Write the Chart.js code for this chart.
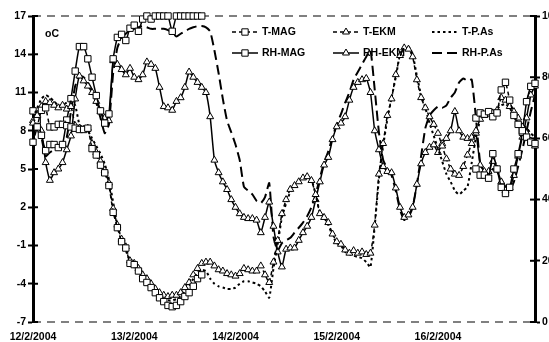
<!DOCTYPE html>
<html><head><meta charset="utf-8">
<script src="https://cdn.jsdelivr.net/npm/chart.js@4/dist/chart.umd.min.js"></script>
<style>
html,body{margin:0;padding:0;overflow:hidden;background:#fff;width:549px;height:342px}
#wrap{position:absolute;left:0;top:0;width:580px;height:350px}
</style>
</head><body>
<div id="wrap"><canvas id="c" width="580" height="350"></canvas></div>
<script>
// x positions of the date labels (hours since 12/2/2004 00:00)
const tickHours = [0, 24, 48, 72, 96];
const dayLabels = ['12/2/2004', '13/2/2004', '14/2/2004', '15/2/2004', '16/2/2004'];
const tempTicks = [-7, -4, -1, 2, 5, 8, 11, 14, 17];
const rhTicks = [0, 20, 40, 60, 80, 100];
const seriesNames = ['T-MAG', 'T-EKM', 'T-P.As', 'RH-MAG', 'RH-EKM', 'RH-P.As'];

// hourly values, hour 0..119
const tMag = [
 7.1, 8.3, 9.6, 9.8, 8.3, 8.3, 8.5, 8.5, 8.4, 8.3,
 8.2, 8.1, 8.1, 8.2, 6.6, 6.1, 5.3, 4.7, 3.7, 1.6,
 0.4, -0.7, -1.2, -2.4, -2.5, -3.0, -3.6, -3.9, -4.3, -4.7,
 -5.1, -5.4, -5.7, -5.8, -5.7, -5.4, -5.0, -4.7, -4.2, -3.6,
 -3.3,
 null, null, null, null, null, null, null, null, null, null, null, null, null, null, null, null,
 null, null, null, null, null, null, null, null, null, null, null, null, null, null, null, null,
 null, null, null, null, null, null, null, null, null, null, null, null, null, null, null, null,
 null, null, null, null, null, null, null, null, null, null, null, null, null, null, null, null,
 9.0, 9.4, 9.3, 9.5, 9.1, 9.4, 11.2, 11.8, 10.4, 9.2, 8.5, 8.0, 7.5, 7.1, 7.0
];
const tEkm = [
 8.6, 9.2, 9.9, 10.3, 10.2, 10.0, 9.8, 10.0, 9.7, 9.9,
 8.4, 8.2, 8.1, 8.2, 7.0, 6.3, 5.6, 4.9, 3.9, 1.9,
 0.6, -0.5, -1.1, -2.2, -2.4, -2.8, -3.3, -3.6, -4.0, -4.4,
 -4.7, -4.9, -5.0, -4.9, -4.9, -4.7, -4.3, -3.9, -3.3, -2.8,
 -2.4, -2.3, -2.3, -2.6, -2.9, -3.0, -3.2, -3.3, -3.4, -3.2,
 -2.8, -2.9, -3.0, -3.0, -2.6, -3.3, -3.9, -2.3, -0.6, 1.5,
 2.6, 3.4, 3.7, 4.0, 4.3, 4.4, 4.1, 3.0, 1.5, 1.2,
 0.8, -0.1, -0.7, -0.9, -1.35, -1.6, -1.4, -1.6, -1.5, -1.7,
 -1.6, 0.6, 4.6, 7.0, 9.2, 10.5, 12.4, 13.9, 14.5, 14.4,
 13.8, 12.0, 10.6, 9.8, 9.1, 8.5, 7.8, 6.8, 5.8, 5.0,
 4.6, 4.5, 5.2, 6.1, 7.0, 8.0, 8.9, 9.2, 9.3, 9.4,
 9.6, 10.6, 10.4, 9.9, 9.5, 9.0, 8.3, 7.8, 7.2, 6.8
];
const tPas = [
 9.0, 9.8, 10.5, 10.8, 10.6, 10.3, 10.0, 10.0, 10.2, 10.3,
 10.0, 8.5, 8.2, 8.0, 7.4, 6.8, 6.2, 5.4, 4.2, 2.4,
 0.6, -0.6, -1.4, -2.2, -2.7, -3.1, -3.5, -3.9, -4.3, -4.7,
 -5.0, -5.2, -5.3, -5.3, -5.2, -5.0, -4.6, -4.2, -3.6, -3.1,
 -2.9, -3.0, -3.6, -4.0, -4.2, -4.3, -4.4, -4.4, -4.3, -4.0,
 -3.8, -3.8, -3.9, -4.0, -4.2, -4.6, -5.1, -2.8, -0.9, 1.2,
 2.3, 3.2, 3.6, 4.0, 4.3, 4.5, 4.2, 3.0, 1.6, 1.2,
 0.6, -0.2, -0.8, -1.0, -1.5, -1.7, -1.8, -1.9, -2.0, -2.3,
 -2.7, 0.5, 4.2, 6.8, 8.9, 10.6, 12.2, 14.0, 14.5, 14.6,
 14.0, 12.3, 10.8, 9.8, 8.6, 7.6, 6.6, 5.6, 4.6, 4.0,
 3.3, 3.0, 3.3, 3.6, 5.5, 7.5, 8.8, 9.2, 9.3, 9.5,
 9.7, 10.0, 10.1, 9.8, 9.2, 8.8, 8.5, 8.2, 7.8, 7.5
];
const rhMag = [
 69, 66, 61, 56, 58, 58, 57, 58, 66, 73,
 82, 90, 90, 86, 80, 74, 69, 65, 68, 86,
 93, 94, 92, 96, 97, 95, 99, 100, 99, 100,
 100, 100, 100, 95, 100, 100, 100, 100, 100, 100,
 100,
 null, null, null, null, null, null, null, null, null, null, null, null, null, null, null, null,
 null, null, null, null, null, null, null, null, null, null, null, null, null, null, null, null,
 null, null, null, null, null, null, null, null, null, null, null, null, null, null, null, null,
 null, null, null, null, null, null, null, null, null, null, null, null, null, null, null, null,
 50, 48, 48, 47, 55, 50, 44, 42, 44, 50, 55, 62, 72, 77, 78
];
const rhEkm = [
 65.8, 67.9, 62.5, 52.1, 46.3, 48.8, 50, 52.1, 56.3, 60.8,
 72.9, 80.4, 78.8, 77.1, 75, 72.1, 68.8, 66.7, 65.8, 85.4,
 84.2, 82.5, 80.8, 82.9, 80, 79.2, 80.8, 85, 84.2, 82.9,
 76.7, 70.4, 70, 69.2, 72.1, 73.3, 76.7, 81.7, 80, 78.3,
 76.7, 75, 67.1, 52.9, 48.8, 45.8, 43.3, 40, 37.5, 35.4,
 34.2, 33.8, 33.8, 33.3, 29.2, 34.2, 39.2, 31.3, 22.9, 18,
 23.8, 24.2, 24.2, 26.7, 29.2, 31.3, 34.2, 40, 45.8, 51.3,
 53.8, 59.6, 63.8, 65, 67.1, 72.5, 76.7, 78.3, 79.2, 79.6,
 75, 62.5, 56.3, 50.8, 49.2, 48.8, 43.8, 37.5, 34.2, 35,
 37.5, 45, 51.7, 55.4, 57.1, 57.9, 55.4, 58.3, 60, 62.5,
 68.8, 62.5, 60.4, 60, 60.4, 61.7, 51.3, 49.2, 49.2, 52.5,
 50, 45.8, 42.9, 43.8, 47.9, 54.2, 60.4, 66.7, 74.2, 77.1
];
const rhPas = [
 64.6, 66.7, 60.4, 54.2, 55.4, 56.3, 57.5, 58.3, 60.4, 68.8,
 77.1, 80.4, 80, 78.3, 75.8, 71.7, 66.7, 61.7, 64.6, 81.3,
 89.6, 92.9, 94.2, 95.4, 95.8, 96.3, 96.7, 96.3, 95.8, 95.8,
 95.8, 95.8, 95.4, 94.6, 93.3, 94.2, 95, 95.8, 96.3, 96.7,
 96.7, 96.3, 95, 88.8, 81.3, 72.9, 65.8, 62, 58, 52.9,
 44.2, 42.9, 41.7, 39.6, 38.8, 40.8, 45.4, 27.9, 23.3, 25.8,
 26.7, 27.5, 29.2, 30.8, 32.5, 34.6, 37.5, 41.7, 47.1, 52.1,
 55.8, 60.4, 64.6, 67.9, 71.7, 75, 79.2, 81.7, 84.2, 86.7,
 88.8, 76, 62, 53, 50, 47.9, 42.9, 36.7, 33.3, 34.2,
 37.5, 45, 54.2, 63.3, 67.5, 69.2, 70.4, 70, 70.8, 73.3,
 75, 78.3, 79.6, 78.8, 79.2, 66.7, 52.1, 49.2, 48.3, 50,
 49.2, 46.7, 44.2, 43.3, 45.8, 50.8, 56.3, 62.5, 68.8, 74.2
];

const FONT = {family: "'Liberation Sans', Arial, sans-serif", size: 10.5, weight: 'bold'};
const toPts = arr => arr.map((v, i) => ({x: i, y: v}));

const base = {borderColor: '#000', pointBorderColor: '#000', pointBackgroundColor: '#fff',
  pointBorderWidth: 1, tension: 0.15, clip: false, spanGaps: false, fill: false};

const datasets = [
  Object.assign({}, base, {label: seriesNames[0], data: toPts(tMag), yAxisID: 'yT', borderWidth: 1.5, borderDash: [4, 3], pointStyle: 'rect', pointRadius: 4.5}),
  Object.assign({}, base, {label: seriesNames[1], data: toPts(tEkm), yAxisID: 'yT', borderWidth: 1.5, borderDash: [4, 3], pointStyle: 'triangle', pointRadius: 4}),
  Object.assign({}, base, {label: seriesNames[2], data: toPts(tPas), yAxisID: 'yT', borderWidth: 2, borderDash: [2.5, 3], pointRadius: 0}),
  Object.assign({}, base, {label: seriesNames[3], data: toPts(rhMag), yAxisID: 'yR', borderWidth: 1.5, borderDash: [], pointStyle: 'rect', pointRadius: 4.5}),
  Object.assign({}, base, {label: seriesNames[4], data: toPts(rhEkm), yAxisID: 'yR', borderWidth: 1.5, borderDash: [], pointStyle: 'triangle', pointRadius: 4}),
  Object.assign({}, base, {label: seriesNames[5], data: toPts(rhPas), yAxisID: 'yR', borderWidth: 2, borderDash: [10, 5], pointRadius: 0})
];

function drawMarker(ctx, style, r, x, y) {
  ctx.beginPath();
  if (style === 'rect') {
    const s = Math.SQRT1_2 * r;
    ctx.rect(x - s, y - s, 2 * s, 2 * s);
  } else if (style === 'triangle') {
    ctx.moveTo(x, y - r);
    ctx.lineTo(x + r * Math.sin(2 * Math.PI / 3), y - r * Math.cos(2 * Math.PI / 3));
    ctx.lineTo(x + r * Math.sin(4 * Math.PI / 3), y - r * Math.cos(4 * Math.PI / 3));
    ctx.closePath();
  }
  ctx.fill(); ctx.stroke();
}

const extras = {
  id: 'extras',
  beforeDatasetsDraw(chart) {
    const {ctx, chartArea: a} = chart;
    ctx.save();
    ctx.strokeStyle = '#808080'; ctx.lineWidth = 2; ctx.setLineDash([8, 6]);
    [a.top, a.bottom].forEach(y => { ctx.beginPath(); ctx.moveTo(a.left, y); ctx.lineTo(a.right, y); ctx.stroke(); });
    ctx.setLineDash([]);
    ctx.strokeStyle = '#000'; ctx.lineWidth = 2;
    const yT = chart.scales.yT, yR = chart.scales.yR;
    tempTicks.forEach(v => { const p = yT.getPixelForValue(v); ctx.beginPath(); ctx.moveTo(a.left, p); ctx.lineTo(a.left + 5, p); ctx.stroke(); });
    rhTicks.forEach(v => { const p = yR.getPixelForValue(v); ctx.beginPath(); ctx.moveTo(a.right - 5, p); ctx.lineTo(a.right, p); ctx.stroke(); });
    ctx.restore();
  },
  afterDraw(chart) {
    const ctx = chart.ctx;
    const cols = [232, 333, 432], rows = [32, 53];
    ctx.save();
    chart.data.datasets.forEach((ds, i) => {
      const x0 = cols[i % 3], y = rows[Math.floor(i / 3)];
      ctx.strokeStyle = '#000'; ctx.lineWidth = ds.borderWidth;
      ctx.setLineDash(ds.borderDash || []);
      ctx.beginPath(); ctx.moveTo(x0, y); ctx.lineTo(x0 + 26, y); ctx.stroke();
      ctx.setLineDash([]);
      if (ds.pointRadius > 0) {
        ctx.fillStyle = '#fff'; ctx.lineWidth = 1;
        drawMarker(ctx, ds.pointStyle, ds.pointRadius, x0 + 13, y);
      }
      ctx.fillStyle = '#000';
      ctx.font = "bold 10.5px 'Liberation Sans', Arial, sans-serif";
      ctx.textBaseline = 'middle'; ctx.textAlign = 'left';
      ctx.fillText(ds.label, x0 + 30, y);
    });
    ctx.fillText('oC', 45, 34);
    ctx.restore();
  }
};

Chart.defaults.color = '#000';
new Chart(document.getElementById('c'), {
  type: 'line',
  data: {datasets},
  plugins: [extras],
  options: {
    responsive: false, animation: false, devicePixelRatio: 1,
    layout: {padding: {top: 16, left: 0, right: 0, bottom: 0}},
    plugins: {legend: {display: false}, tooltip: {enabled: false}},
    scales: {
      x: {
        type: 'linear', min: 0, max: 119,
        afterBuildTicks: s => { s.ticks = tickHours.map(v => ({value: v})); },
        ticks: {font: FONT, color: '#000', padding: 9, maxRotation: 0, autoSkip: false,
          callback: (v, i) => dayLabels[i]},
        grid: {display: false, drawTicks: false},
        border: {display: false},
        afterFit: s => { s.height = 28; }
      },
      yT: {
        position: 'left', min: -7, max: 17,
        afterBuildTicks: s => { s.ticks = tempTicks.map(v => ({value: v})); },
        ticks: {font: FONT, color: '#000', padding: 2},
        grid: {drawOnChartArea: false, drawTicks: true, tickLength: 5, tickWidth: 2, tickColor: '#000'},
        border: {display: true, color: '#000', width: 3},
        afterFit: s => { s.width = 33; }
      },
      yR: {
        position: 'right', min: 0, max: 100,
        afterBuildTicks: s => { s.ticks = rhTicks.map(v => ({value: v})); },
        ticks: {font: FONT, color: '#000', padding: 2},
        grid: {drawOnChartArea: false, drawTicks: true, tickLength: 5, tickWidth: 2, tickColor: '#000'},
        border: {display: true, color: '#000', width: 3},
        afterFit: s => { s.width = 45; }
      }
    }
  }
});
</script>
</body></html>
